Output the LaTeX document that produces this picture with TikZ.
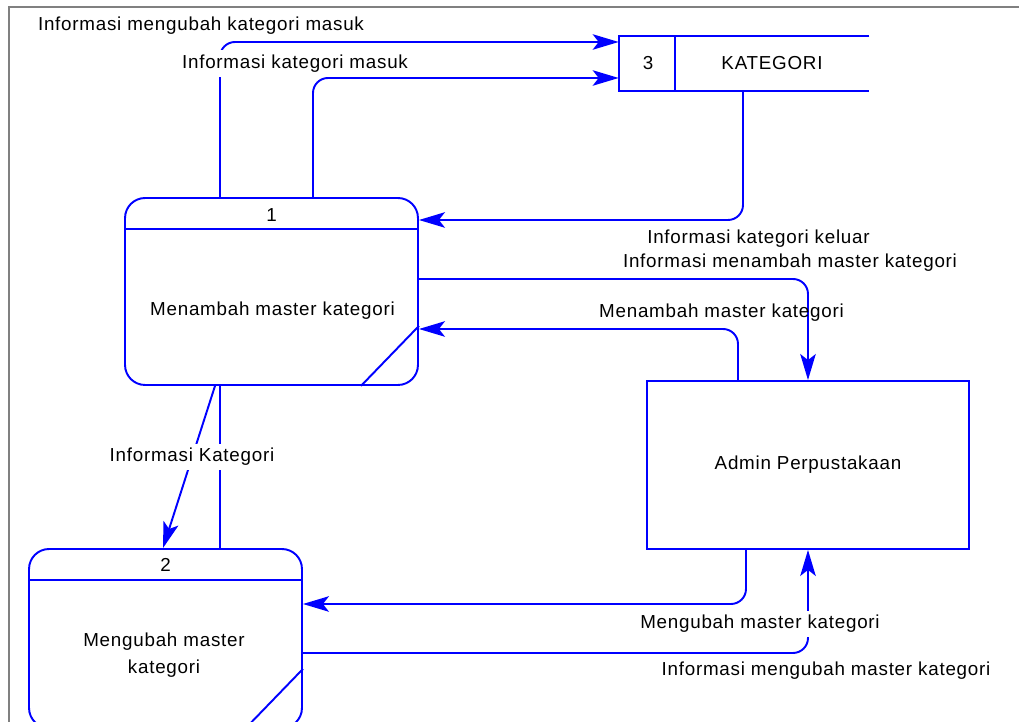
\documentclass[tikz,border=0pt]{standalone}
\usepackage{fontspec}
\setmainfont{Liberation Sans}[LetterSpace=4]
\usetikzlibrary{calc,arrows.meta}

\begin{document}
\begin{tikzpicture}[x=0.02cm, y=-0.02cm,
    text_style/.style={font=\fontsize{10.7pt}{15.4pt}\selectfont, text=black, inner sep=0pt},
    label_style/.style={text_style, anchor=base},
    cover_style/.style={label_style, fill=white, inner sep=2.5pt},
    process_style/.style={draw=blue, line width=1.1pt, rounded corners=0.4cm, minimum width=#1, inner sep=0pt},
    entity_style/.style={draw=blue, line width=1.1pt, minimum width=6.44cm, minimum height=3.36cm, text_style},
    edge_style/.style={blue, line width=1.1pt},
    flow_style/.style={edge_style, rounded corners=0.3cm, -{Stealth[length=0.52cm, width=0.31cm, inset=0.12cm]}}
]
    % Fix the page
    \clip (0,0) rectangle (1019,722);
    \draw[gray, line width=1.2pt] (9,722) -- (9,7) -- (1019,7);

    % Processes
    \node (p1) at (271.5,291.5) [process_style=5.86cm, minimum height=3.74cm] {};
    \node (p2) at (165.5,638.5) [process_style=5.46cm, minimum height=3.58cm] {};
    \foreach \p in {p1,p2} {
        \draw[edge_style] ($(\p.north west)+(0,32)$) -- ($(\p.north east)+(0,32)$);
        \draw[edge_style] ($(\p.south east)+(-58,0)$) -- ($(\p.south east)+(0,-60)$);
    }
    \node (p1_num) at ($(p1.north)+(0,24)$) [label_style] {1};
    \node (p1_txt) at ($(p1.north)+(1,118.7)$) [label_style] {Menambah master kategori};
    \node (p2_num) at ($(p2.north)+(0,23)$) [label_style] {2};
    \node (p2_txt) at (164,655) [text_style, align=center] {Mengubah master\\kategori};

    % Data store
    \node (store) at (744,63.5) [minimum width=5cm, minimum height=1.1cm, inner sep=0pt] {};
    \draw[edge_style] (store.north east) -- (store.north west) -- (store.south west) -- (store.south east);
    \draw[edge_style] ($(store.north west)+(56,0)$) -- ($(store.south west)+(56,0)$);
    \node (store_num) at (648,70) [label_style] {3};
    \node (store_txt) at (772,70) [label_style] {KATEGORI};

    % External entity
    \node (admin) at (808,465) [entity_style] {Admin Perpustakaan};

    % Flows between p1 and the store
    \draw[flow_style] ($(p1.north)+(-51.5,0)$) |- ($(store.west)+(0,-21.5)$);
    \draw[flow_style] ($(p1.north)+(41.5,0)$) |- ($(store.west)+(0,14.5)$);
    \draw[flow_style] ($(store.south)+(-1,0)$) |- ($(p1.east)+(0,-71.5)$);

    % Flows between p1 and admin
    \draw[flow_style] ($(p1.east)+(0,-12.5)$) -| (admin.north);
    \draw[flow_style] ($(admin.north)+(-70,0)$) |- ($(p1.east)+(0,37.5)$);

    % Flows between p1 and p2
    \draw[flow_style] ($(p1.south)+(-56.5,0)$) -- ($(p2.north)+(-2.5,0)$);
    \draw[edge_style] ($(p1.south)+(-51.5,0)$) -- ($(p2.north)+(54.5,0)$);

    % Flows between admin and p2
    \draw[flow_style] ($(admin.south)+(-62,0)$) |- ($(p2.east)+(0,-34.5)$);
    \draw[flow_style] ($(p2.east)+(0,14.5)$) -| (admin.south);

    % Flow labels
    \node (lbl_a) at (201,31) [label_style] {Informasi mengubah kategori masuk};
    \node (lbl_b) at (295,68.5) [cover_style] {Informasi kategori masuk};
    \node (lbl_c) at (758.5,244) [label_style] {Informasi kategori keluar};
    \node (lbl_d) at (790,268) [label_style] {Informasi menambah master kategori};
    \node (lbl_e) at (721.5,318) [label_style] {Menambah master kategori};
    \node (lbl_f) at (192,462) [cover_style] {Informasi Kategori};
    \node (lbl_h) at (760,629) [cover_style] {Mengubah master kategori};
    \node (lbl_i) at (826,676) [label_style] {Informasi mengubah master kategori};

\end{tikzpicture}
\end{document}
